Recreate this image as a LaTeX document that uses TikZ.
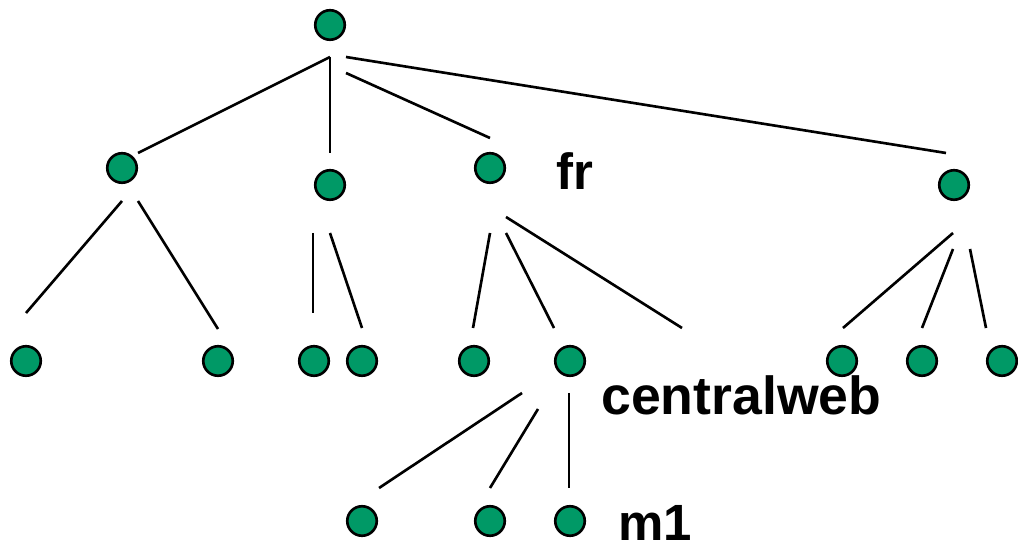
\documentclass[tikz,border=0pt]{standalone}
\usepackage{fontspec}
\setmainfont{Liberation Sans}
\definecolor{nodegreen}{RGB}{0,153,102}
\begin{document}
\begin{tikzpicture}[scale=.4, line width=1.5pt,
  vertex/.style={circle, draw, fill=nodegreen, minimum size=0.59cm, inner sep=0pt},
  lbl/.style={anchor=base west, inner sep=0pt, font=\fontsize{29}{30}\selectfont\bfseries}]
\useasboundingbox (0,0) rectangle (50.9,27.25);

\node[vertex] (root) at (16.5,26) {};
\node[vertex] (a) at (6.1,18.85) {};
\node[vertex] (b) at (16.5,18) {};
\node[vertex] (c) at (24.5,18.85) {};
\node[vertex] (d) at (47.7,18) {};

\node[vertex] (a1) at (1.3,9.2) {};
\node[vertex] (a2) at (10.9,9.2) {};
\node[vertex] (b1) at (15.7,9.2) {};
\node[vertex] (b2) at (18.1,9.2) {};
\node[vertex] (c1) at (23.7,9.2) {};
\node[vertex] (c2) at (28.5,9.2) {};
\node[vertex] (d1) at (42.1,9.2) {};
\node[vertex] (d2) at (46.1,9.2) {};
\node[vertex] (d3) at (50.1,9.2) {};

\node[vertex] (e1) at (18.1,1.2) {};
\node[vertex] (e2) at (24.5,1.2) {};
\node[vertex] (e3) at (28.5,1.2) {};

\draw (16.5,24.4) -- (6.9,19.6);
\draw (16.5,24.4) -- (16.5,19.6);
\draw (17.3,23.6) -- (24.5,20.35);
\draw (17.3,24.4) -- (47.3,19.6);

\draw (6.1,17.2) -- (1.3,11.6);
\draw (6.9,17.2) -- (10.9,10.8);
\draw (15.65,15.6) -- (15.65,11.6);
\draw (16.5,15.6) -- (18.1,10.85);

\draw (24.5,15.6) -- (23.65,10.85);
\draw (25.3,15.6) -- (27.7,10.85);
\draw (25.3,16.4) -- (34.1,10.85);

\draw (47.65,15.6) -- (42.15,10.85);
\draw (47.65,14.8) -- (46.1,10.85);
\draw (48.5,14.8) -- (49.3,10.85);

\draw (26.1,7.6) -- (18.95,2.85);
\draw (26.9,6.8) -- (24.5,2.85);
\draw (28.45,7.6) -- (28.45,2.85);

\node[lbl] (fr) at (27.75,17.75) {fr};
\node[lbl, font=\fontsize{30.5}{32}\selectfont\bfseries] (cw) at (30,6.5) {centralweb};
\node[lbl] (m1) at (30.85,0.25) {m1};
\end{tikzpicture}
\end{document}
